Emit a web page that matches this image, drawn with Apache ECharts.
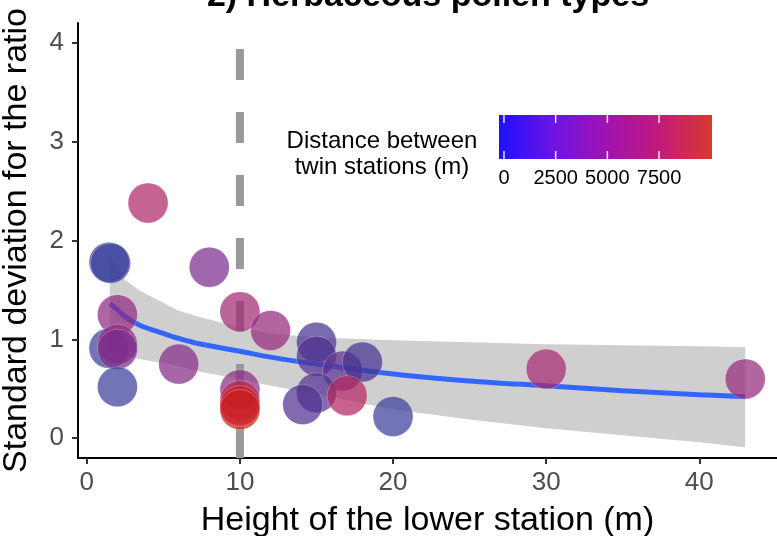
<!DOCTYPE html>
<html>
<head>
<meta charset="utf-8">
<script src="https://cdn.jsdelivr.net/npm/echarts@6/dist/echarts.min.js"></script>
<style>
  html, body { margin: 0; padding: 0; background: #ffffff; }
  #chart { width: 777px; height: 536px; }
</style>
</head>
<body>
<div id="chart"></div>
<script>
// Twin-station observations: height of the lower station (m), SD of the ratio, distance between stations (m)
const heightM   = [1.45, 1.55, 4.0, 8.0, 2.0, 1.45, 2.0, 2.0, 2.0, 6.0, 10, 12, 10, 10, 10, 10, 15, 15, 16.7, 18, 15, 14.1, 17, 20, 30, 43];
const sdRatio   = [1.78, 1.77, 2.38, 1.73, 1.25, 0.91, 0.95, 0.90, 0.52, 0.75, 1.28, 1.09, 0.49, 0.38, 0.33, 0.29, 0.97, 0.83, 0.68, 0.77, 0.46, 0.34, 0.43, 0.22, 0.70, 0.60];
const distanceM = [800, 1000, 7500, 5000, 6000, 1200, 6000, 5000, 1200, 5500, 6800, 6300, 5800, 8500, 9500, 10000, 2500, 3000, 3500, 2500, 3000, 3000, 7800, 1200, 7000, 6300];

// Smoothed trend with its confidence band
const fitHeight = [1.5, 2, 2.5, 3.5, 5, 6, 7.5, 10, 12, 15, 20, 25, 30, 35, 40, 43];
const fitValue  = [1.36, 1.30, 1.23, 1.14, 1.06, 1.01, 0.95, 0.88, 0.82, 0.75, 0.65, 0.58, 0.53, 0.48, 0.44, 0.42];
const fitUpper  = [1.86, 1.72, 1.60, 1.49, 1.37, 1.29, 1.22, 1.12, 1.06, 1.02, 0.99, 0.97, 0.95, 0.94, 0.93, 0.92];
const fitLower  = [0.87, 0.86, 0.84, 0.80, 0.76, 0.73, 0.67, 0.60, 0.53, 0.45, 0.29, 0.19, 0.10, 0.03, -0.04, -0.09];

// Reference height marked by the dashed line
const referenceHeight = 10;

// Axis ticks
const xTicks = [0, 10, 20, 30, 40];
const yTicks = [0, 1, 2, 3, 4];

// Colour legend
const legendTicks = [0, 2500, 5000, 7500];
const legendRange = [-240, 10060];
const legendColors = ['#1e10ff', '#6c14e4', '#a012b2', '#c21a7c', '#d63a2e'];
const pointColors  = ['#324aa0', '#473292', '#7a2c8e', '#b0286a', '#cc1f1f'];

const FONT = '"Liberation Sans", Arial, sans-serif';
const X_MIN = -0.575, X_MAX = 45.075, Y_MIN = -0.2, Y_MAX = 4.2;

const chart = echarts.init(document.getElementById('chart'), null, { renderer: 'canvas' });

const points = heightM.map((h, i) => [h, sdRatio[i], distanceM[i]]);
const fitLine = fitHeight.map((h, i) => [h, fitValue[i]]);

// Legend geometry
const LEG = { x: 499, y: 115, w: 213, h: 44 };
const legX = v => LEG.x + (v - legendRange[0]) / (legendRange[1] - legendRange[0]) * LEG.w;

const legendGraphics = [
  {
    type: 'rect',
    shape: { x: LEG.x, y: LEG.y, width: LEG.w, height: LEG.h },
    style: {
      fill: new echarts.graphic.LinearGradient(0, 0, 1, 0,
        legendColors.map((c, i) => ({ offset: i / (legendColors.length - 1), color: c })))
    },
    z: 10
  },
  {
    type: 'text',
    x: 382, y: 154,
    style: {
      text: 'Distance between\ntwin stations (m)',
      font: '24px ' + FONT, fill: '#000', align: 'center', verticalAlign: 'middle', lineHeight: 26
    },
    z: 10
  }
];
legendTicks.forEach(v => {
  const x = legX(v);
  legendGraphics.push(
    { type: 'line', shape: { x1: x, y1: LEG.y, x2: x, y2: LEG.y + 8 }, style: { stroke: 'rgba(255,255,255,0.9)', lineWidth: 1.5 }, z: 11 },
    { type: 'line', shape: { x1: x, y1: LEG.y + LEG.h - 8, x2: x, y2: LEG.y + LEG.h }, style: { stroke: 'rgba(255,255,255,0.9)', lineWidth: 1.5 }, z: 11 },
    { type: 'text', x: x, y: 178, style: { text: String(v), font: '20px ' + FONT, fill: '#000', align: 'center', verticalAlign: 'middle' }, z: 10 }
  );
});
legendGraphics.push({
  type: 'text', x: 428, y: 14,
  style: { text: '2) Herbaceous pollen types', font: 'bold 34px ' + FONT, fill: '#000', align: 'center', verticalAlign: 'bottom' },
  z: 10
});

const axisCommon = {
  type: 'value',
  splitLine: { show: false },
  axisLine: { show: true, onZero: false, lineStyle: { color: '#000', width: 2 } },
  axisTick: { show: true, length: 6, lineStyle: { color: '#333', width: 2 } },
  nameLocation: 'middle',
  nameTextStyle: { fontFamily: FONT, fontSize: 34, color: '#000' }
};

const option = {
  animation: false,
  backgroundColor: '#ffffff',
  grid: { left: 78, right: 0, top: 23, bottom: 78, outerBoundsMode: 'none' },
  xAxis: Object.assign({}, axisCommon, {
    min: X_MIN, max: X_MAX,
    name: 'Height of the lower station (m)',
    nameGap: 46,
    axisTick: Object.assign({}, axisCommon.axisTick, { customValues: xTicks }),
    axisLabel: { customValues: xTicks, fontFamily: FONT, fontSize: 26, color: '#4d4d4d', margin: 12 }
  }),
  yAxis: Object.assign({}, axisCommon, {
    min: Y_MIN, max: Y_MAX,
    name: 'Standard deviation for the ratio',
    nameGap: 44,
    axisTick: Object.assign({}, axisCommon.axisTick, { customValues: yTicks }),
    axisLabel: { customValues: yTicks, fontFamily: FONT, fontSize: 26, color: '#4d4d4d', margin: 14 }
  }),
  visualMap: {
    type: 'continuous', show: false, seriesIndex: 3, dimension: 2,
    min: 0, max: 10000, inRange: { color: pointColors }
  },
  graphic: legendGraphics,
  series: [
    {
      type: 'line', z: 1, silent: true, symbol: 'none',
      data: [[referenceHeight, Y_MIN], [referenceHeight, Y_MAX]],
      lineStyle: { color: '#999999', width: 8, type: [31, 32], cap: 'butt' }
    },
    {
      type: 'custom', z: 2, silent: true, clip: true,
      data: [[fitHeight[0], fitValue[0]]],
      renderItem: function (params, api) {
        const pts = [];
        for (let i = 0; i < fitHeight.length; i++) pts.push(api.coord([fitHeight[i], fitUpper[i]]));
        for (let i = fitHeight.length - 1; i >= 0; i--) pts.push(api.coord([fitHeight[i], fitLower[i]]));
        return { type: 'polygon', shape: { points: pts }, style: { fill: 'rgba(153,150,150,0.46)' } };
      }
    },
    {
      type: 'line', z: 3, silent: true, showSymbol: false, smooth: 0.3,
      data: fitLine,
      lineStyle: { color: '#3366FF', width: 5 }
    },
    {
      type: 'scatter', z: 4, symbolSize: 40,
      data: points,
      itemStyle: { opacity: 0.72, borderColor: 'rgba(255,255,255,0.35)', borderWidth: 1 }
    }
  ]
};

chart.setOption(option);
</script>
</body>
</html>
